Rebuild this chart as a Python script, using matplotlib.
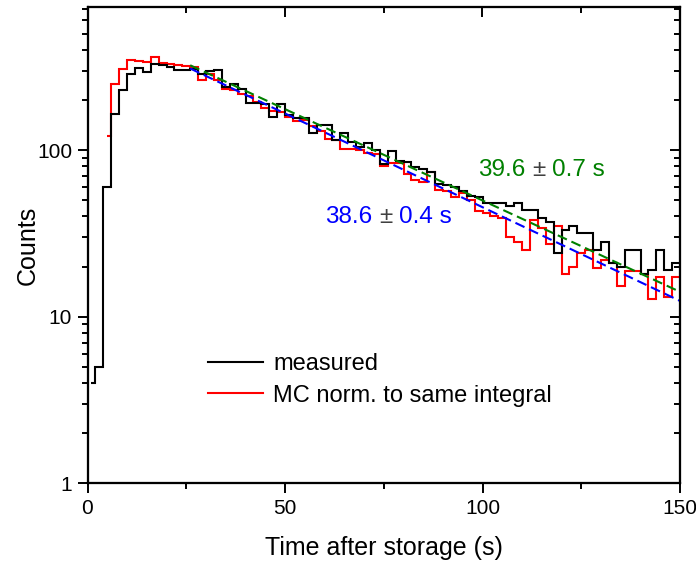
import matplotlib

matplotlib.use("Agg")

import matplotlib.pyplot as plt
import numpy as np
from matplotlib.lines import Line2D
from matplotlib.ticker import FixedLocator, MultipleLocator, NullFormatter

plt.rcParams["font.family"] = ["Liberation Sans", "DejaVu Sans"]

# bin centres (2 s bins), measured counts
t_meas = np.arange(1, 150, 2)
counts_meas = [
    4, 5, 60, 164, 229, 288, 313, 294, 328, 323,
    316, 301, 304, 306, 285, 298, 302, 238, 250, 233,
    193, 192, 190, 159, 190, 162, 156, 156, 127, 141,
    141, 115, 127, 112, 105, 110, 100, 82, 99, 86,
    85, 79, 77, 74, 63, 62, 60, 57, 53, 52,
    48, 48, 48, 46, 48, 44, 44, 39, 37, 24,
    33, 35, 32, 32, 25, 28, 21, 20, 25, 25,
    18, 19, 25, 19, 21,
]

# MC histogram, normalised to same integral
t_mc = np.arange(5, 150, 2)
counts_mc = [
    121, 249, 309, 346, 343, 337, 362, 334, 331, 323,
    318, 316, 263, 288, 262, 234, 230, 216, 212, 195,
    178, 172, 170, 158, 150, 152, 140, 130, 117, 115,
    102, 102, 100, 96, 95, 80, 84, 84, 72, 66,
    64, 74, 58, 57, 52, 55, 50, 43, 42, 40,
    39, 30, 28, 25, 38, 34, 27.5, 35, 18, 20,
    24, 25, 19.5, 22, 21, 15.3, 18.8, 18.8, 18, 12.7,
    17.4, 13.2, 17.4,
]

# exponential fits: amplitude, lifetime (s), fit range
fit_meas = (623.0, 39.6)
fit_mc = (606.0, 38.6)
fit_range = (26.0, 150.0)

label_meas = ("39.6", "0.7 s")
label_mc = ("38.6", "0.4 s")


def edges_from_centres(t):
    t = np.asarray(t, dtype=float)
    return np.concatenate([[t[0]], t[:-1] + 1.0, [t[-1] + 1.0]])


def pm_text(ax, x, y, value, err, color, fs):
    # number in colour, the plus-minus sign in dark grey like the original
    sp = 0.278 * fs
    t1 = ax.text(x, y, value, color=color, fontsize=fs, va="baseline", ha="left")
    t2 = ax.annotate("\u00b1", xy=(1, 0), xycoords=t1, xytext=(sp, 0),
                     textcoords="offset points", color="#404040", fontsize=fs,
                     va="bottom", ha="left")
    ax.annotate(err, xy=(1, 0), xycoords=t2, xytext=(sp, 0),
                textcoords="offset points", color=color, fontsize=fs,
                va="bottom", ha="left")


fig = plt.figure(figsize=(6.96, 5.61), dpi=100)
ax = fig.add_axes([87.5 / 696, 1 - 483.3 / 561, (680 - 87.5) / 696, (483.3 - 7.3) / 561])
ax.set_yscale("log")

lw = 1.5
ax.stairs(counts_meas, edges_from_centres(t_meas), baseline=None, color="black", lw=lw, zorder=3)
ax.stairs(counts_mc, edges_from_centres(t_mc), baseline=None, color="red", lw=lw, zorder=2)

tf = np.linspace(fit_range[0], fit_range[1], 300)
ax.plot(tf, fit_meas[0] * np.exp(-tf / fit_meas[1]), color="#008000", lw=lw,
        linestyle=(0, (4.8, 2.4)), zorder=4)
ax.plot(tf, fit_mc[0] * np.exp(-tf / fit_mc[1]), color="#0000ff", lw=lw,
        linestyle=(0, (4.8, 2.4)), zorder=4)

ax.set_xlim(0, 150)
ax.set_ylim(1, 720)

ax.xaxis.set_major_locator(MultipleLocator(50))
ax.xaxis.set_minor_locator(MultipleLocator(25))
ax.yaxis.set_major_locator(FixedLocator([1, 10, 100]))
ax.set_yticklabels(["1", "10", "100"])
ax.tick_params(which="both", direction="out", top=False, right=False, width=1.4, labelsize=15)
ax.tick_params(which="major", length=7.5)
ax.tick_params(which="minor", length=4.3)
for s in ax.spines.values():
    s.set_linewidth(1.5)

# mirrored axes on top / right with inward ticks
ax_r = ax.twinx()
ax_r.set_yscale("log")
ax_r.set_ylim(ax.get_ylim())
ax_r.yaxis.set_major_locator(FixedLocator([1, 10, 100]))
ax_r.yaxis.set_minor_formatter(NullFormatter())
ax_r.tick_params(which="both", direction="in", labelright=False, width=1.4)
ax_r.tick_params(which="major", length=7.5)
ax_r.tick_params(which="minor", length=4.3)
ax_t = ax.twiny()
ax_t.set_xlim(ax.get_xlim())
ax_t.xaxis.set_major_locator(MultipleLocator(50))
ax_t.xaxis.set_minor_locator(MultipleLocator(25))
ax_t.tick_params(which="both", direction="in", labeltop=False, width=1.4)
ax_t.tick_params(which="major", length=7.5)
ax_t.tick_params(which="minor", length=4.3)
for a in (ax_r, ax_t):
    for s in a.spines.values():
        s.set_linewidth(1.5)

ax.set_xlabel("Time after storage (s)", fontsize=18, labelpad=13)
ax.set_ylabel("Counts", fontsize=18, labelpad=-2)

pm_text(ax, 98.9, 70.0, label_meas[0], label_meas[1], "#008000", 17.5)
pm_text(ax, 60.1, 36.5, label_mc[0], label_mc[1], "#0000ff", 17.5)

handles = [Line2D([], [], color="black", lw=lw), Line2D([], [], color="red", lw=lw)]
ax.legend(handles, ["measured", "MC norm. to same integral"], loc="upper left",
          bbox_to_anchor=(0.203, 0.273), bbox_transform=ax.transAxes, frameon=False,
          borderpad=0, borderaxespad=0, handlelength=2.36, handletextpad=0.4,
          labelspacing=0.395, fontsize=17)

fig.savefig("out.png", dpi=100)
